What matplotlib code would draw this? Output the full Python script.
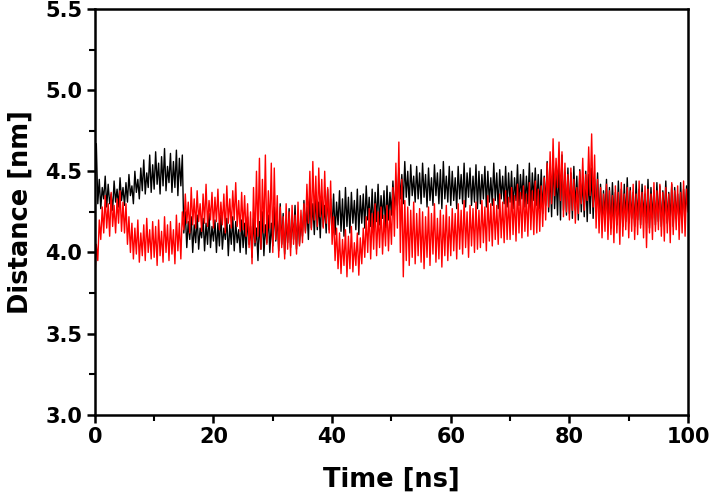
import matplotlib
matplotlib.use("Agg")
import matplotlib.pyplot as plt
import numpy as np
from matplotlib.ticker import MultipleLocator

# distance traces, one value every 0.25 ns
time_ns = np.arange(0, 100.25, 0.25)

black_nm = [
    4.38, 4.67, 4.30, 4.45, 4.27, 4.40, 4.33, 4.47, 4.28, 4.42, 4.30, 4.36, 4.26, 4.44, 4.31, 4.39, 4.28, 4.46, 4.32, 4.40,
    4.29, 4.43, 4.31, 4.48, 4.35, 4.41, 4.30, 4.50, 4.37, 4.45, 4.33, 4.52, 4.38, 4.57, 4.36, 4.49, 4.40, 4.60, 4.37, 4.54,
    4.39, 4.62, 4.42, 4.55, 4.36, 4.59, 4.41, 4.64, 4.38, 4.53, 4.43, 4.61, 4.37, 4.56, 4.40, 4.63, 4.35, 4.58, 4.41, 4.60,
    4.12, 4.25, 4.03, 4.19, 4.08, 4.22, 4.00, 4.17, 4.06, 4.23, 4.02, 4.15, 4.09, 4.21, 4.01, 4.18, 4.05, 4.24, 4.03, 4.16,
    4.07, 4.20, 4.00, 4.18, 4.04, 4.23, 4.02, 4.15, 4.08, 4.21, 3.98, 4.17, 4.05, 4.22, 4.01, 4.19, 4.06, 4.14, 4.00, 4.20,
    4.03, 4.18, 3.99, 4.22, 4.05, 4.16, 3.97, 4.21, 4.04, 4.15, 3.95, 4.19, 4.02, 4.25, 3.98, 4.17, 4.06, 4.23, 4.00, 4.18,
    4.04, 4.28, 4.07, 4.22, 4.01, 4.30, 4.05, 4.24, 3.99, 4.20, 4.06, 4.27, 4.03, 4.21, 4.08, 4.29, 4.02, 4.23, 4.05, 4.19,
    4.10, 4.32, 4.13, 4.28, 4.08, 4.35, 4.15, 4.30, 4.11, 4.37, 4.14, 4.31, 4.09, 4.34, 4.16, 4.29, 4.12, 4.39, 4.14, 4.33,
    4.15, 4.36, 4.11, 4.31, 4.17, 4.38, 4.13, 4.33, 4.10, 4.40, 4.16, 4.34, 4.12, 4.37, 4.18, 4.32, 4.14, 4.39, 4.11, 4.35,
    4.18, 4.36, 4.15, 4.41, 4.20, 4.34, 4.16, 4.39, 4.13, 4.37, 4.19, 4.42, 4.17, 4.35, 4.21, 4.38, 4.15, 4.41, 4.20, 4.37,
    4.23, 4.44, 4.26, 4.40, 4.29, 4.52, 4.33, 4.48, 4.30, 4.56, 4.34, 4.50, 4.29, 4.54, 4.35, 4.47, 4.31, 4.53, 4.33, 4.49,
    4.30, 4.55, 4.34, 4.48, 4.28, 4.52, 4.32, 4.46, 4.29, 4.54, 4.35, 4.49, 4.30, 4.51, 4.27, 4.56, 4.33, 4.47, 4.31, 4.53,
    4.29, 4.50, 4.32, 4.46, 4.27, 4.53, 4.33, 4.48, 4.30, 4.55, 4.28, 4.49, 4.34, 4.52, 4.29, 4.47, 4.31, 4.54, 4.27, 4.50,
    4.30, 4.48, 4.33, 4.53, 4.28, 4.50, 4.31, 4.46, 4.29, 4.55, 4.32, 4.49, 4.27, 4.51, 4.33, 4.47, 4.30, 4.53, 4.28, 4.49,
    4.31, 4.50, 4.27, 4.46, 4.32, 4.54, 4.29, 4.48, 4.33, 4.51, 4.28, 4.47, 4.30, 4.55, 4.26, 4.49, 4.32, 4.52, 4.29, 4.48,
    4.27, 4.51, 4.24, 4.47, 4.29, 4.56, 4.25, 4.50, 4.22, 4.58, 4.27, 4.48, 4.23, 4.54, 4.20, 4.60, 4.26, 4.49, 4.23, 4.52,
    4.24, 4.49, 4.21, 4.53, 4.26, 4.47, 4.20, 4.51, 4.25, 4.46, 4.22, 4.50, 4.19, 4.48, 4.24, 4.52, 4.21, 4.45, 4.25, 4.49,
    4.20, 4.42, 4.17, 4.38, 4.22, 4.45, 4.18, 4.40, 4.15, 4.43, 4.21, 4.37, 4.17, 4.44, 4.20, 4.39, 4.16, 4.42, 4.19, 4.46,
    4.18, 4.40, 4.21, 4.37, 4.16, 4.44, 4.20, 4.39, 4.17, 4.42, 4.22, 4.36, 4.18, 4.45, 4.15, 4.40, 4.21, 4.38, 4.17, 4.43,
    4.19, 4.41, 4.16, 4.38, 4.22, 4.44, 4.18, 4.37, 4.20, 4.42, 4.16, 4.40, 4.21, 4.36, 4.17, 4.43, 4.19, 4.39, 4.22, 4.41,
    4.30,
]

red_nm = [
    3.83, 4.05, 3.95, 4.20, 4.08, 4.28, 4.12, 4.35, 4.15, 4.30, 4.10, 4.37, 4.16, 4.29, 4.12, 4.33, 4.18, 4.38, 4.13, 4.31,
    4.12, 4.30, 4.05, 4.22, 4.00, 4.18, 3.96, 4.15, 3.99, 4.20, 3.94, 4.12, 3.98, 4.17, 3.95, 4.21, 4.00, 4.14, 3.96, 4.19,
    3.97, 4.16, 3.92, 4.20, 3.98, 4.13, 3.94, 4.22, 4.00, 4.17, 3.95, 4.19, 3.99, 4.14, 3.93, 4.23, 4.01, 4.18, 3.96, 4.25,
    4.14, 4.36, 4.18, 4.31, 4.12, 4.40, 4.17, 4.33, 4.15, 4.38, 4.19, 4.30, 4.13, 4.36, 4.18, 4.42, 4.16, 4.32, 4.20, 4.37,
    4.15, 4.34, 4.19, 4.39, 4.14, 4.31, 4.17, 4.36, 4.12, 4.41, 4.18, 4.33, 4.15, 4.38, 4.20, 4.43, 4.16, 4.32, 4.13, 4.37,
    4.14, 4.35, 4.10, 4.30, 4.03, 4.25, 3.93, 4.40, 4.06, 4.50, 4.10, 4.58, 4.02, 4.45, 4.12, 4.60, 4.05, 4.38, 4.15, 4.55,
    4.00, 4.52, 4.08, 4.35, 3.97, 4.28, 4.03, 4.22, 3.96, 4.30, 4.02, 4.25, 3.98, 4.29, 4.05, 4.23, 3.99, 4.31, 4.04, 4.26,
    4.06, 4.30, 4.12, 4.42, 4.18, 4.50, 4.14, 4.56, 4.20, 4.47, 4.16, 4.52, 4.22, 4.45, 4.15, 4.50, 4.18, 4.40, 4.12, 4.44,
    4.05, 4.22, 3.95, 4.15, 3.90, 4.12, 3.87, 4.08, 3.92, 4.14, 3.85, 4.10, 3.90, 4.16, 3.88, 4.06, 3.92, 4.12, 3.86, 4.09,
    3.93, 4.15, 3.97, 4.22, 4.00, 4.27, 3.96, 4.24, 4.02, 4.30, 3.98, 4.25, 4.03, 4.28, 3.99, 4.23, 4.04, 4.29, 4.01, 4.26,
    4.05, 4.40, 4.10, 4.55, 4.15, 4.68, 4.00, 4.45, 3.85, 4.32, 3.95, 4.28, 3.92, 4.26, 3.97, 4.31, 3.93, 4.24, 3.98, 4.27,
    3.94, 4.25, 3.90, 4.22, 3.97, 4.28, 3.92, 4.24, 3.99, 4.30, 3.94, 4.21, 3.96, 4.26, 3.91, 4.23, 3.98, 4.29, 3.95, 4.22,
    3.98, 4.27, 4.01, 4.24, 3.96, 4.30, 4.02, 4.26, 3.99, 4.32, 4.03, 4.25, 3.97, 4.29, 4.04, 4.27, 4.00, 4.31, 4.02, 4.26,
    4.03, 4.32, 4.06, 4.28, 4.01, 4.35, 4.07, 4.30, 4.04, 4.33, 4.08, 4.29, 4.05, 4.36, 4.09, 4.31, 4.06, 4.38, 4.08, 4.34,
    4.08, 4.40, 4.11, 4.35, 4.07, 4.42, 4.12, 4.37, 4.09, 4.41, 4.13, 4.36, 4.10, 4.43, 4.14, 4.38, 4.11, 4.44, 4.12, 4.39,
    4.13, 4.41, 4.16, 4.46, 4.20, 4.55, 4.28, 4.62, 4.30, 4.70, 4.35, 4.58, 4.40, 4.68, 4.32, 4.62, 4.22, 4.55, 4.25, 4.48,
    4.20, 4.52, 4.26, 4.45, 4.18, 4.40, 4.24, 4.50, 4.30, 4.58, 4.26, 4.48, 4.32, 4.65, 4.35, 4.73, 4.28, 4.60, 4.15, 4.45,
    4.12, 4.40, 4.09, 4.36, 4.13, 4.42, 4.08, 4.38, 4.11, 4.35, 4.06, 4.41, 4.12, 4.37, 4.05, 4.43, 4.10, 4.36, 4.14, 4.40,
    4.09, 4.38, 4.13, 4.42, 4.08, 4.36, 4.11, 4.44, 4.15, 4.37, 4.09, 4.41, 4.03, 4.39, 4.12, 4.36, 4.08, 4.43, 4.13, 4.38,
    4.14, 4.42, 4.10, 4.37, 4.07, 4.40, 4.12, 4.36, 4.06, 4.43, 4.11, 4.38, 4.14, 4.41, 4.08, 4.37, 4.12, 4.44, 4.10, 4.39,
    4.25,
]

plt.rcParams['font.family'] = ['DejaVu Sans']
plt.rcParams['font.weight'] = 'bold'

fig = plt.figure(figsize=(7.13, 4.95), dpi=100)
ax = fig.add_axes([0.133, 0.162, 0.832, 0.82])

ax.plot(time_ns, black_nm, color='black', lw=1.0)
ax.plot(time_ns, red_nm, color='red', lw=1.0)

ax.set_xlim(0, 100)
ax.set_ylim(3.0, 5.5)
ax.xaxis.set_major_locator(MultipleLocator(20))
ax.xaxis.set_minor_locator(MultipleLocator(10))
ax.yaxis.set_major_locator(MultipleLocator(0.5))
ax.yaxis.set_minor_locator(MultipleLocator(0.25))
ax.yaxis.set_major_formatter(plt.FormatStrFormatter('%.1f'))

for s in ax.spines.values():
    s.set_linewidth(1.8)
ax.tick_params(which='major', direction='out', length=6, width=1.8, labelsize=15, pad=3)
ax.tick_params(which='minor', direction='out', length=4, width=1.5)

ax.set_xlabel('Time [ns]', fontsize=18.5, fontweight='bold', labelpad=14)
ax.set_ylabel('Distance [nm]', fontsize=18.5, fontweight='bold', labelpad=8)

fig.savefig('out.png', dpi=100)
